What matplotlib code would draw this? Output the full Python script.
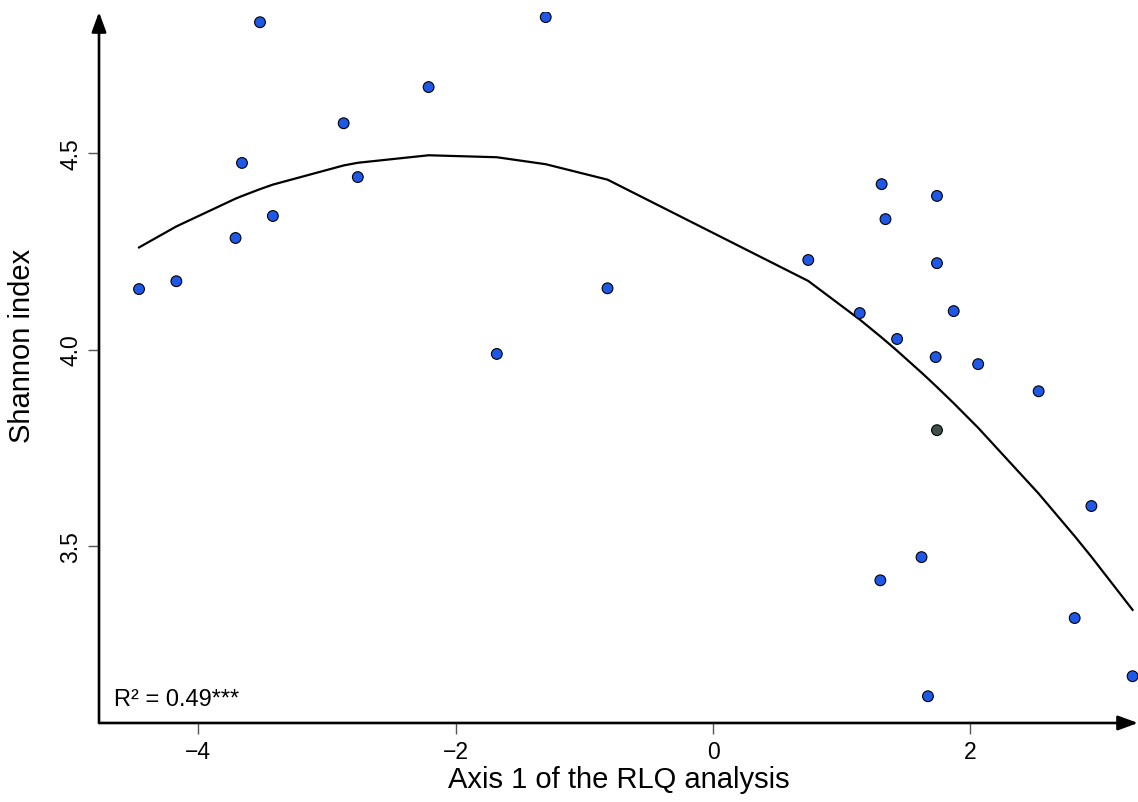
import numpy as np
import matplotlib
matplotlib.use("Agg")
import matplotlib.pyplot as plt

plt.rcParams['font.family'] = ['Liberation Sans', 'DejaVu Sans']

# RLQ axis 1 scores and Shannon index of each site
axis1 = [-4.46, -4.17, -3.52, -3.66, -3.71, -3.42, -2.87, -2.76, -2.21, -1.30,
         -1.68, -0.82, 0.74, 1.31, 1.74, 1.34, 1.74, 1.14, 1.87, 1.43,
         1.73, 2.06, 2.53, 1.74, 2.94, 1.30, 1.62, 1.67, 2.81, 3.26]
shannon = [4.154, 4.174, 4.833, 4.475, 4.284, 4.340, 4.576, 4.439, 4.668, 4.846,
           3.989, 4.156, 4.228, 4.421, 4.391, 4.332, 4.220, 4.093, 4.098, 4.027,
           3.981, 3.963, 3.894, 3.795, 3.602, 3.413, 3.472, 3.118, 3.317, 3.169]
# one site is drawn in a dark grey instead of blue
point_colors = ['#1f58e6'] * 30
point_colors[23] = '#3f4f4c'

xticks = [-4, -2, 0, 2]
yticks = [3.5, 4.0, 4.5]

x = np.array(axis1)
y = np.array(shannon)

# quadratic fit, drawn through the sorted site scores
coef = np.polyfit(x, y, 2)
xs = np.sort(x)
ys = np.polyval(coef, xs)

fig = plt.figure(figsize=(11.38, 8.03), dpi=100)
ax = fig.add_axes([0.087, 0.0984, 0.913, 0.8854])

ax.plot(xs, ys, color='black', lw=1.6, zorder=2)
ax.scatter(x, y, s=60, c=point_colors, edgecolors='black', linewidths=0.8, zorder=3)

ax.set_xlim(-4.771, 3.302)
ax.set_ylim(3.050, 4.859)

for s in ax.spines.values():
    s.set_visible(False)
arrow = dict(arrowstyle='-|>,head_length=0.6,head_width=0.22', lw=1.9, color='black',
             mutation_scale=20, shrinkA=0, shrinkB=0)
ax.annotate('', xy=(1, 0), xytext=(0, 0), xycoords='axes fraction', arrowprops=arrow,
            annotation_clip=False)
ax.annotate('', xy=(0, 1), xytext=(0, 0), xycoords='axes fraction', arrowprops=arrow,
            annotation_clip=False)

ax.set_xticks(xticks)
ax.set_xticklabels(['\u22124', '\u22122', '0', '2'])
ax.set_yticks(yticks)
ax.set_yticklabels(['3.5', '4.0', '4.5'], rotation=90, va='center')
ax.tick_params(axis='both', length=8, width=1.0, color='#555555', labelsize=16.5, pad=4)

ax.set_xlabel('Axis 1 of the RLQ analysis', fontsize=21, labelpad=2)
ax.set_ylabel('Shannon index', fontsize=21)
ax.yaxis.set_label_coords(-0.061, 0.532)

ax.text(0.0144, 0.0253, 'R\u00b2 = 0.49***', transform=ax.transAxes,
        fontsize=17, va='baseline', ha='left')

fig.savefig('out.png', dpi=100)
